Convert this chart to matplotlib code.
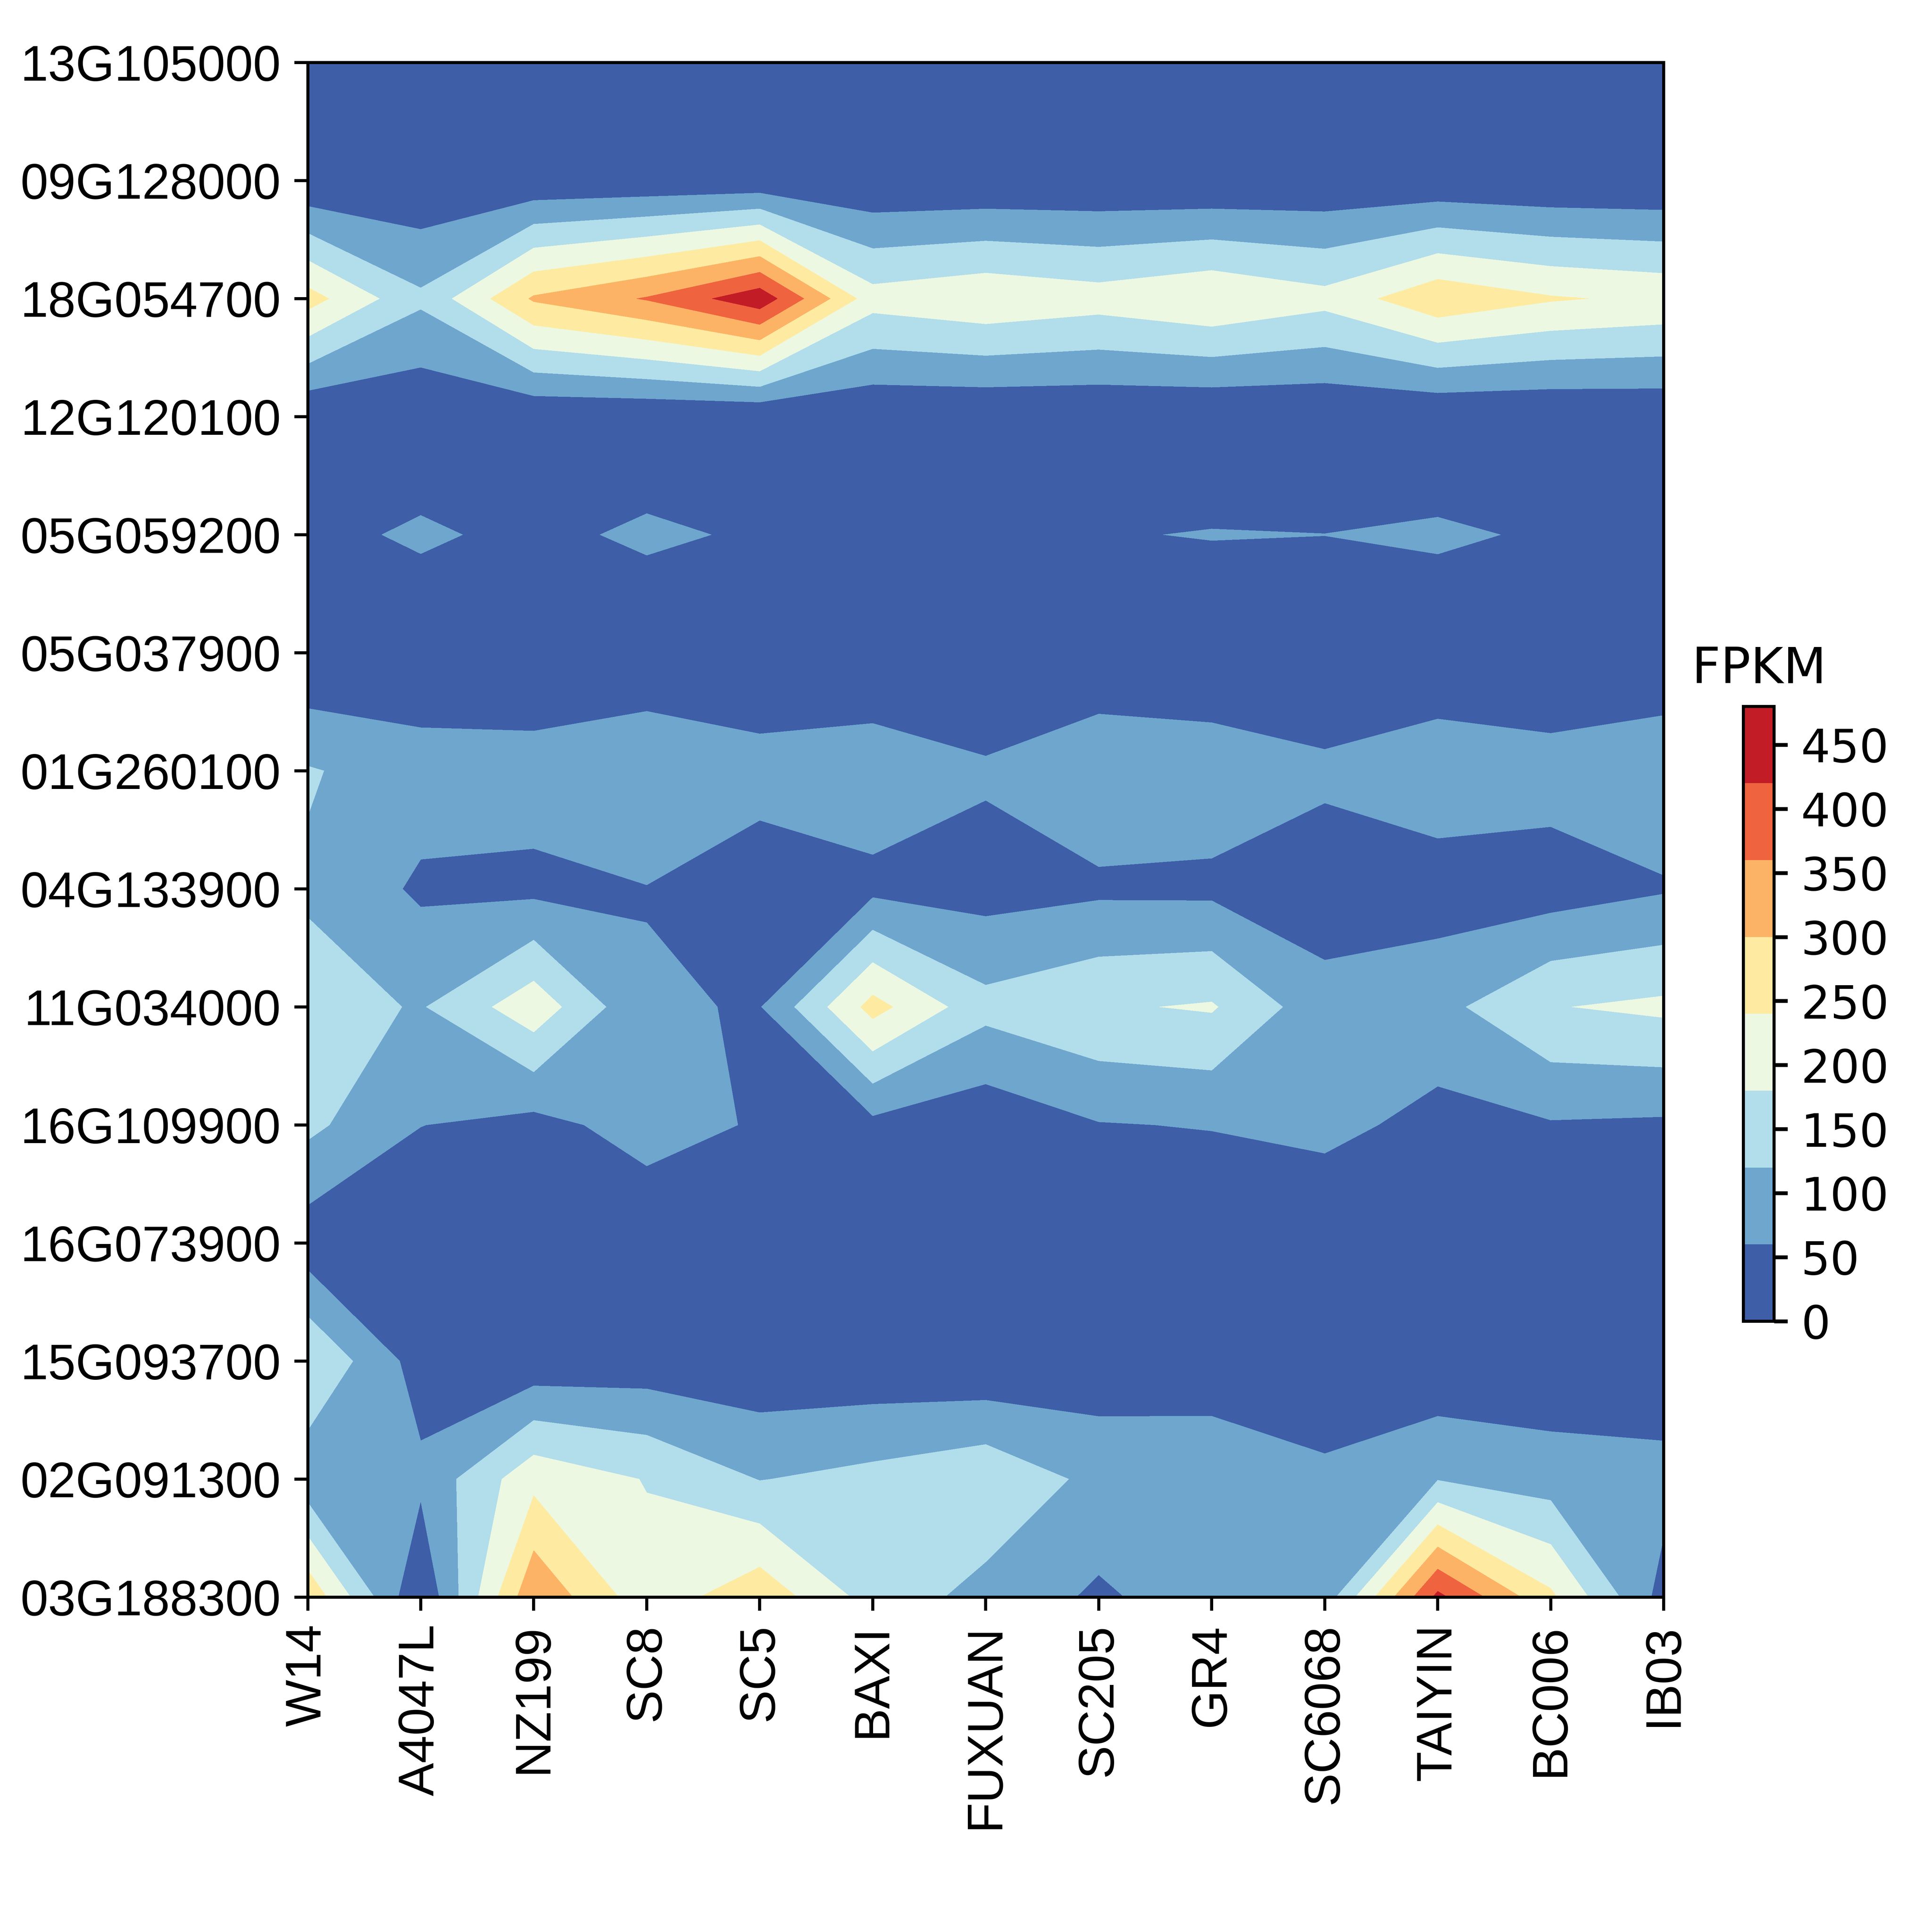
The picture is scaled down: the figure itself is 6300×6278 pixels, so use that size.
import matplotlib
matplotlib.use("Agg")
import matplotlib.pyplot as plt
import numpy as np

plt.rcParams['font.family'] = ['Liberation Sans', 'DejaVu Sans']

samples = ["W14", "A4047L", "NZ199", "SC8", "SC5", "BAXI", "FUXUAN", "SC205", "GR4",
           "SC6068", "TAIYIN", "BC006", "IB03"]
genes = ["03G188300", "02G091300", "15G093700", "16G073900", "16G109900", "11G034000",
         "04G133900", "01G260100", "05G037900", "05G059200", "12G120100", "18G054700",
         "09G128000", "13G105000"]

g03G188300 = [288, 3, 351, 203, 282, 155, 100, 50, 94, 85, 436, 252, 36]
g02G091300 = [79, 73, 222, 177, 118, 138, 167, 103, 100, 71, 117, 91, 83]
g15G093700 = [178, 33, 17, 24, 15, 15, 7, 22, 25, 20, 10, 14, 12]
g16G073900 = [25, 5, 3, 13, 5, 4, 3, 3, 4, 3, 4, 3, 5]
g16G109900 = [134, 61, 40, 85, 54, 43, 18, 57, 63, 78, 40, 55, 50]
g11G034000 = [145, 115, 218, 65, 57, 262, 139, 173, 186, 81, 101, 177, 193]
g04G133900 = [112, 50, 45, 58, 24, 44, 36, 48, 46, 28, 30, 30, 54]
g01G260100 = [125, 90, 89, 118, 86, 99, 68, 112, 100, 72, 100, 87, 106]
g05G037900 = [2, 8, 3, 3, 3, 2, 4, 4, 2, 6, 9, 2, 8]
g05G059200 = [41, 70, 43, 72, 51, 40, 38, 56, 63, 60.5, 70, 52, 40]
g12G120100 = [2, 9, 7, 5, 4, 6, 4, 5, 2, 4, 3, 3, 7]
g18G054700 = [265, 131, 308, 365, 460, 204, 228, 207, 235, 200, 285, 246, 228]
g09G128000 = [3, 10, 10, 12, 13, 6, 7, 8, 5, 10, 11, 5, 4]
g13G105000 = [1, 1, 1, 1, 1, 1, 1, 1, 1, 1, 1, 1, 1]

rows = [g03G188300, g02G091300, g15G093700, g16G073900, g16G109900, g11G034000, g04G133900,
        g01G260100, g05G037900, g05G059200, g12G120100, g18G054700, g09G128000, g13G105000]
levels = [0, 60, 120, 180, 240, 300, 360, 420, 480]
cbar_ticks = [0, 50, 100, 150, 200, 250, 300, 350, 400, 450]

W, H = 7000.0, 6976.0
fig = plt.figure(figsize=(7.0, 6.976), dpi=900)
ax = fig.add_axes([1115 / W, 1 - 5788 / H, (6028 - 1115) / W, (5788 - 227) / H])
x = np.arange(len(samples))
y = np.arange(len(genes))
cf = ax.contourf(x, y, np.array(rows, dtype=float), levels=levels, cmap='RdYlBu_r', vmin=0, vmax=480)
ax.set_xticks(x)
ax.set_xticklabels(samples, rotation=90, fontsize=13.0)
ax.set_yticks(y)
ax.set_yticklabels(genes, fontsize=13.0)

cax = fig.add_axes([6317 / W, 1 - 4788 / H, (6428 - 6317) / W, (4788 - 2560) / H])
cb = fig.colorbar(cf, cax=cax, ticks=cbar_ticks)
cb.ax.tick_params(labelsize=12, labelfontfamily='DejaVu Sans', width=1.0)
fig.text(6130 / W, 1 - 2476 / H, "FPKM", fontsize=13, family='DejaVu Sans', ha='left', va='baseline')

fig.savefig("out.png", dpi=900)
